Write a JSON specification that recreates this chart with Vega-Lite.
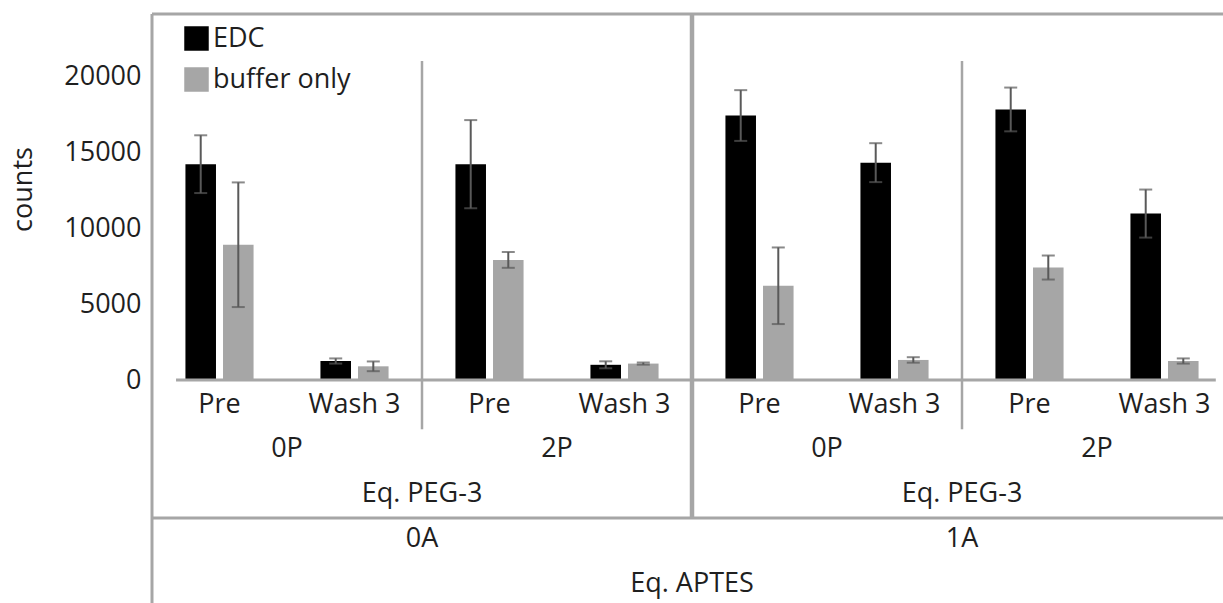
{
  "$schema": "https://vega.github.io/schema/vega-lite/v6.json",
  "autosize": {"type": "pad"},
  "padding": {"left": 9, "top": 11, "right": -6, "bottom": 0},
  "background": "white",
  "spacing": 0,
  "bounds": "flush",
  "config": {
    "view": {"stroke": null},
    "font": "Open Sans",
    "text": {"font": "Open Sans", "fontSize": 27, "color": "#1f1f1f"}
  },
  "datasets": {
    "bars": [
      {"aptes": "0A", "peg": "0P", "grp": "0A 0P", "step": "Pre", "cat": "0A 0P Pre", "series": "EDC", "value": 14200, "err": 1900},
      {"aptes": "0A", "peg": "0P", "grp": "0A 0P", "step": "Pre", "cat": "0A 0P Pre", "series": "buffer only", "value": 8900, "err": 4100},
      {"aptes": "0A", "peg": "0P", "grp": "0A 0P", "step": "Wash 3", "cat": "0A 0P Wash 3", "series": "EDC", "value": 1250, "err": 170},
      {"aptes": "0A", "peg": "0P", "grp": "0A 0P", "step": "Wash 3", "cat": "0A 0P Wash 3", "series": "buffer only", "value": 900, "err": 320},
      {"aptes": "0A", "peg": "2P", "grp": "0A 2P", "step": "Pre", "cat": "0A 2P Pre", "series": "EDC", "value": 14200, "err": 2900},
      {"aptes": "0A", "peg": "2P", "grp": "0A 2P", "step": "Pre", "cat": "0A 2P Pre", "series": "buffer only", "value": 7900, "err": 520},
      {"aptes": "0A", "peg": "2P", "grp": "0A 2P", "step": "Wash 3", "cat": "0A 2P Wash 3", "series": "EDC", "value": 1000, "err": 230},
      {"aptes": "0A", "peg": "2P", "grp": "0A 2P", "step": "Wash 3", "cat": "0A 2P Wash 3", "series": "buffer only", "value": 1080, "err": 70},
      {"aptes": "1A", "peg": "0P", "grp": "1A 0P", "step": "Pre", "cat": "1A 0P Pre", "series": "EDC", "value": 17400, "err": 1670},
      {"aptes": "1A", "peg": "0P", "grp": "1A 0P", "step": "Pre", "cat": "1A 0P Pre", "series": "buffer only", "value": 6200, "err": 2520},
      {"aptes": "1A", "peg": "0P", "grp": "1A 0P", "step": "Wash 3", "cat": "1A 0P Wash 3", "series": "EDC", "value": 14300, "err": 1280},
      {"aptes": "1A", "peg": "0P", "grp": "1A 0P", "step": "Wash 3", "cat": "1A 0P Wash 3", "series": "buffer only", "value": 1320, "err": 180},
      {"aptes": "1A", "peg": "2P", "grp": "1A 2P", "step": "Pre", "cat": "1A 2P Pre", "series": "EDC", "value": 17800, "err": 1440},
      {"aptes": "1A", "peg": "2P", "grp": "1A 2P", "step": "Pre", "cat": "1A 2P Pre", "series": "buffer only", "value": 7400, "err": 790},
      {"aptes": "1A", "peg": "2P", "grp": "1A 2P", "step": "Wash 3", "cat": "1A 2P Wash 3", "series": "EDC", "value": 10950, "err": 1580},
      {"aptes": "1A", "peg": "2P", "grp": "1A 2P", "step": "Wash 3", "cat": "1A 2P Wash 3", "series": "buffer only", "value": 1250, "err": 170}
    ],
    "pegs": [
      {"grp": "0A 0P", "peg": "0P"},
      {"grp": "0A 2P", "peg": "2P"},
      {"grp": "1A 0P", "peg": "0P"},
      {"grp": "1A 2P", "peg": "2P"}
    ],
    "aptesRows": [
      {"aptes": "0A", "pegTitle": "Eq. PEG-3"},
      {"aptes": "1A", "pegTitle": "Eq. PEG-3"}
    ],
    "one": [{}]
  },
  "vconcat": [
    {
      "width": 1080,
      "height": 366,
      "layer": [
        {
          "data": {"name": "bars"},
          "mark": {"type": "bar"},
          "encoding": {
            "x": {"field": "cat", "type": "nominal", "axis": null,
                  "scale": {"domain": ["0A 0P Pre","0A 0P Wash 3","0A 2P Pre","0A 2P Wash 3","1A 0P Pre","1A 0P Wash 3","1A 2P Pre","1A 2P Wash 3"], "paddingInner": 0, "paddingOuter": 0}},
            "xOffset": {"field": "series", "type": "nominal",
                        "scale": {"domain": ["EDC", "buffer only"], "paddingInner": 0.187, "paddingOuter": 0.89}},
            "y": {"field": "value", "type": "quantitative", "title": "counts",
                  "scale": {"domain": [0, 24080], "nice": false, "zero": true},
                  "axis": {"values": [0, 5000, 10000, 15000, 20000], "format": "d", "domain": false, "ticks": false, "grid": false,
                           "labelFont": "Open Sans", "labelFontSize": 27, "labelColor": "#1f1f1f", "labelPadding": 11,
                           "titleFont": "Open Sans", "titleFontSize": 27, "titleFontWeight": "normal", "titleColor": "#1f1f1f", "titlePadding": 26, "titleY": 175}},
            "color": {"field": "series", "type": "nominal",
                      "scale": {"domain": ["EDC", "buffer only"], "range": ["#000000", "#a6a6a6"]},
                      "legend": {"orient": "none", "legendX": 31, "legendY": 11, "title": null, "padding": 0,
                                 "symbolType": "square", "symbolSize": 600, "symbolStrokeWidth": 0, "symbolOpacity": 1,
                                 "labelFont": "Open Sans", "labelFontSize": 27, "labelColor": "#1f1f1f", "labelOffset": 3, "rowPadding": 13}}
          }
        },
        {
          "data": {"name": "bars"},
          "mark": {"type": "errorbar", "color": "#595959", "thickness": 2, "ticks": {"size": 13}},
          "encoding": {
            "x": {"field": "cat", "type": "nominal"},
            "xOffset": {"field": "series", "type": "nominal"},
            "y": {"field": "value", "type": "quantitative", "title": "counts"},
            "yError": {"field": "err"}
          }
        },
        {
          "data": {"name": "one"},
          "mark": {"type": "rule", "color": "#a6a6a6", "strokeWidth": 3},
          "encoding": {
            "y": {"datum": 0, "type": "quantitative"},
            "x": {"datum": "0A 0P Pre", "type": "nominal", "bandPosition": 0.178},
            "x2": {"datum": "1A 2P Wash 3", "bandPosition": 0.88}
          }
        },
        {
          "data": {"name": "one"},
          "mark": {"type": "rule", "color": "#a6a6a6", "strokeWidth": 3},
          "encoding": {"y": {"datum": 24080, "type": "quantitative"}}
        },
        {
          "data": {"name": "one"},
          "mark": {"type": "rule", "color": "#a6a6a6", "strokeWidth": 3},
          "encoding": {"x": {"datum": "0A 0P Pre", "type": "nominal", "bandPosition": 0}}
        },
        {
          "data": {"name": "one"},
          "mark": {"type": "rule", "color": "#a6a6a6", "strokeWidth": 4.5},
          "encoding": {"x": {"datum": "1A 0P Pre", "type": "nominal", "bandPosition": 0}}
        },
        {
          "data": {"name": "bars"},
          "transform": [{"filter": "datum.step == 'Pre' && datum.peg == '2P' && datum.series == 'EDC'"}],
          "mark": {"type": "rule", "color": "#a6a6a6", "strokeWidth": 2.5},
          "encoding": {
            "x": {"field": "cat", "type": "nominal", "bandPosition": 0},
            "y": {"datum": 20990, "type": "quantitative"},
            "y2": {"datum": 0}
          }
        }
      ]
    },
    {
      "width": 1080,
      "height": 224,
      "resolve": {"scale": {"x": "independent"}},
      "layer": [
        {
          "data": {"name": "bars"},
          "transform": [{"filter": "datum.series == 'EDC'"}],
          "mark": {"type": "text", "baseline": "middle", "align": "center"},
          "encoding": {
            "x": {"field": "cat", "type": "nominal", "axis": null,
                  "scale": {"domain": ["0A 0P Pre","0A 0P Wash 3","0A 2P Pre","0A 2P Wash 3","1A 0P Pre","1A 0P Wash 3","1A 2P Pre","1A 2P Wash 3"], "paddingInner": 0, "paddingOuter": 0}},
            "y": {"datum": "step", "type": "ordinal", "bandPosition": 0.55, "axis": null,
                  "scale": {"type": "band", "domain": ["step", "peg", "pegtitle", "aptes", "aptestitle"], "paddingInner": 0, "paddingOuter": 0}},
            "text": {"field": "step", "type": "nominal"}
          }
        },
        {
          "data": {"name": "pegs"},
          "mark": {"type": "text", "baseline": "middle", "align": "center"},
          "encoding": {
            "x": {"field": "grp", "type": "nominal", "axis": null,
                  "scale": {"domain": ["0A 0P", "0A 2P", "1A 0P", "1A 2P"], "paddingInner": 0, "paddingOuter": 0}},
            "y": {"datum": "peg", "type": "ordinal", "bandPosition": 0.55},
            "text": {"field": "peg", "type": "nominal"}
          }
        },
        {
          "data": {"name": "aptesRows"},
          "mark": {"type": "text", "baseline": "middle", "align": "center"},
          "encoding": {
            "x": {"field": "aptes", "type": "nominal", "axis": null,
                  "scale": {"domain": ["0A", "1A"], "paddingInner": 0, "paddingOuter": 0}},
            "y": {"datum": "pegtitle", "type": "ordinal", "bandPosition": 0.55},
            "text": {"field": "pegTitle", "type": "nominal"}
          }
        },
        {
          "data": {"name": "aptesRows"},
          "mark": {"type": "text", "baseline": "middle", "align": "center"},
          "encoding": {
            "x": {"field": "aptes", "type": "nominal", "axis": null,
                  "scale": {"domain": ["0A", "1A"], "paddingInner": 0, "paddingOuter": 0}},
            "y": {"datum": "aptes", "type": "ordinal", "bandPosition": 0.55},
            "text": {"field": "aptes", "type": "nominal"}
          }
        },
        {
          "data": {"name": "one"},
          "mark": {"type": "text", "baseline": "middle", "align": "center"},
          "encoding": {
            "y": {"datum": "aptestitle", "type": "ordinal", "bandPosition": 0.55},
            "text": {"value": "Eq. APTES"}
          }
        },
        {
          "data": {"name": "one"},
          "mark": {"type": "rule", "color": "#a6a6a6", "strokeWidth": 3},
          "encoding": {
            "x": {"datum": "0A", "type": "nominal", "bandPosition": 0, "axis": null,
                  "scale": {"domain": ["0A", "1A"], "paddingInner": 0, "paddingOuter": 0}}
          }
        },
        {
          "data": {"name": "one"},
          "mark": {"type": "rule", "color": "#a6a6a6", "strokeWidth": 4.5},
          "encoding": {
            "x": {"datum": "1A", "type": "nominal", "bandPosition": 0, "axis": null,
                  "scale": {"domain": ["0A", "1A"], "paddingInner": 0, "paddingOuter": 0}},
            "y": {"datum": "step", "type": "ordinal", "bandPosition": 0},
            "y2": {"datum": "aptes", "bandPosition": 0.08}
          }
        },
        {
          "data": {"name": "one"},
          "mark": {"type": "rule", "color": "#a6a6a6", "strokeWidth": 3},
          "encoding": {
            "y": {"datum": "aptes", "type": "ordinal", "bandPosition": 0.08}
          }
        },
        {
          "data": {"name": "pegs"},
          "transform": [{"filter": "datum.peg == '2P'"}],
          "mark": {"type": "rule", "color": "#a6a6a6", "strokeWidth": 2.5},
          "encoding": {
            "x": {"field": "grp", "type": "nominal", "bandPosition": 0, "axis": null,
                  "scale": {"domain": ["0A 0P", "0A 2P", "1A 0P", "1A 2P"], "paddingInner": 0, "paddingOuter": 0}},
            "y": {"datum": "step", "type": "ordinal", "bandPosition": 0},
            "y2": {"datum": "step", "bandPosition": 1.1}
          }
        }
      ]
    }
  ]
}
